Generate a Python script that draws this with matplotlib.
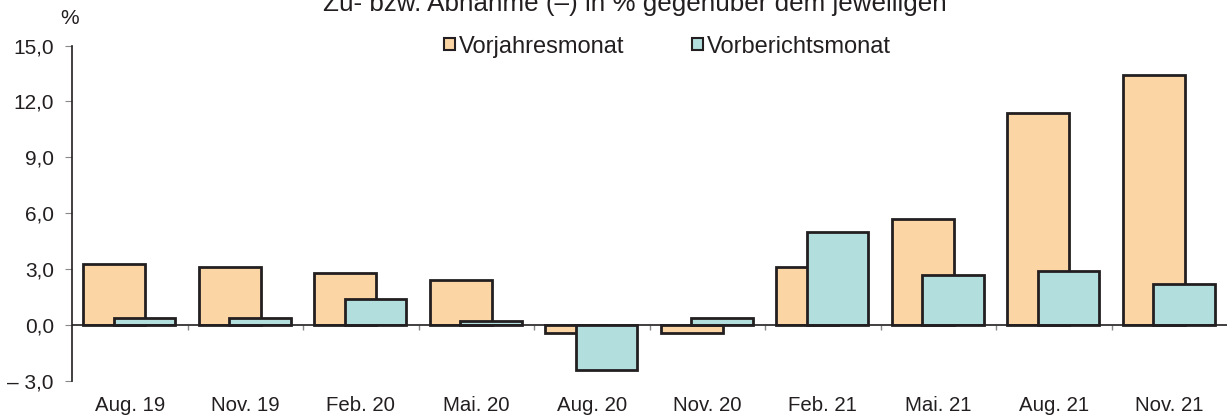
import matplotlib.pyplot as plt
from matplotlib.patches import Patch
import numpy as np

plt.rcParams['font.family'] = ['Liberation Sans', 'DejaVu Sans']

# data
months = ['Aug. 19', 'Nov. 19', 'Feb. 20', 'Mai. 20', 'Aug. 20',
          'Nov. 20', 'Feb. 21', 'Mai. 21', 'Aug. 21', 'Nov. 21']
vorjahr = [3.3, 3.1, 2.8, 2.4, -0.4, -0.4, 3.1, 5.7, 11.4, 13.4]
vorbericht = [0.4, 0.4, 1.4, 0.2, -2.4, 0.4, 5.0, 2.7, 2.9, 2.2]
yticks = [-3, 0, 3, 6, 9, 12, 15]

c_orange = '#fcd5a5'
c_teal = '#b3dede'
c_edge = '#231f20'

fig = plt.figure(figsize=(12.27, 4.19), dpi=100)
ax = fig.add_axes([0.0587, 0.0907, 0.9413, 0.8007])

x = np.arange(len(months))
w = 0.535
ax.bar(x + 0.098, vorjahr, width=w, align='edge', color=c_orange,
       edgecolor=c_edge, linewidth=2, zorder=2)
ax.bar(x + 0.36, vorbericht, width=w, align='edge', color=c_teal,
       edgecolor=c_edge, linewidth=2, zorder=3)

ax.set_xlim(0, len(months))
ax.set_ylim(-3, 15)

ax.axhline(0, color=c_edge, linewidth=1.2, zorder=4)
# category separators on the zero line
ax.vlines(x[1:], 0, -0.27, color='#888888', linewidth=1, zorder=1)

for s in ['top', 'right', 'bottom']:
    ax.spines[s].set_visible(False)
ax.spines['left'].set_color(c_edge)
ax.spines['left'].set_linewidth(1.2)

ax.set_yticks(yticks)
ax.set_yticklabels([('– ' + f'{abs(v):.1f}' if v < 0 else f'{v:.1f}').replace('.', ',')
                    for v in yticks])
ax.tick_params(axis='y', length=5, color='#888888', labelsize=15, pad=8,
               labelcolor='#231f20')

ax.set_xticks(x + 0.5)
ax.set_xticklabels(months)
ax.tick_params(axis='x', length=0, labelsize=14.7, pad=11, labelcolor='#231f20')

fig.text(0.057, 0.955, '%', ha='center', va='center', fontsize=15, color='#231f20')
fig.text(0.5175, 0.99, 'Zu- bzw. Abnahme (–) in % gegenüber dem jeweiligen',
         ha='center', va='center', fontsize=18.7, color='#231f20')

handles = [Patch(facecolor=c_orange, edgecolor=c_edge, linewidth=1.5),
           Patch(facecolor=c_teal, edgecolor=c_edge, linewidth=1.5)]
fig.legend(handles, ['Vorjahresmonat', 'Vorberichtsmonat'], loc='center',
           bbox_to_anchor=(0.544, 0.889), ncol=2, frameon=False, fontsize=17,
           handlelength=0.45, handleheight=0.45, handletextpad=0.15,
           columnspacing=2.9, labelcolor='#231f20', borderpad=0)

fig.savefig('out.png', dpi=100)
